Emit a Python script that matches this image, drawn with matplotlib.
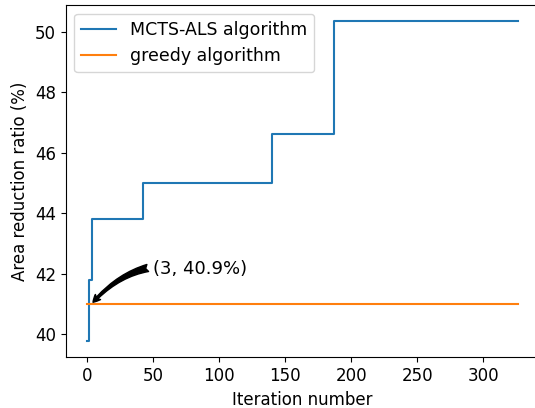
import matplotlib
matplotlib.use('Agg')
import matplotlib.pyplot as plt

# step points of the MCTS-ALS curve (iteration where the value changes)
mcts_iters = [0, 1, 4, 42, 140, 187, 326]
mcts_ratio = [39.76, 41.78, 43.79, 45.0, 46.62, 50.35, 50.35]

greedy_iters = [0, 326]
greedy_ratio = [40.98, 40.98]

xticks = [0, 50, 100, 150, 200, 250, 300]
yticks = [40, 42, 44, 46, 48, 50]


def main():
    fig = plt.figure(figsize=(5.35, 4.08), dpi=100)
    # axes runs past the right edge, as in the (cropped) original
    ax = fig.add_axes([0.1228, 0.1243, 0.8849, 0.8635])

    ax.plot(mcts_iters, mcts_ratio, drawstyle='steps-post', color='tab:blue',
            lw=1.5, label='MCTS-ALS algorithm')
    ax.plot(greedy_iters, greedy_ratio, color='tab:orange', lw=1.5,
            label='greedy algorithm')

    ax.annotate('(3, 40.9%)', xy=(3, 40.98), xytext=(50, 42.0), fontsize=13,
                arrowprops=dict(arrowstyle='fancy', color='k',
                                connectionstyle='arc3,rad=0.3'))

    ax.set_xticks(xticks)
    ax.set_yticks(yticks)
    ax.tick_params(labelsize=12)
    ax.set_xlabel('Iteration number', fontsize=12)
    ax.set_ylabel('Area reduction ratio (%)', fontsize=12)
    ax.legend(loc='upper left', fontsize=12.5)

    fig.savefig('out.png', dpi=100)


if __name__ == "__main__":
    main()
